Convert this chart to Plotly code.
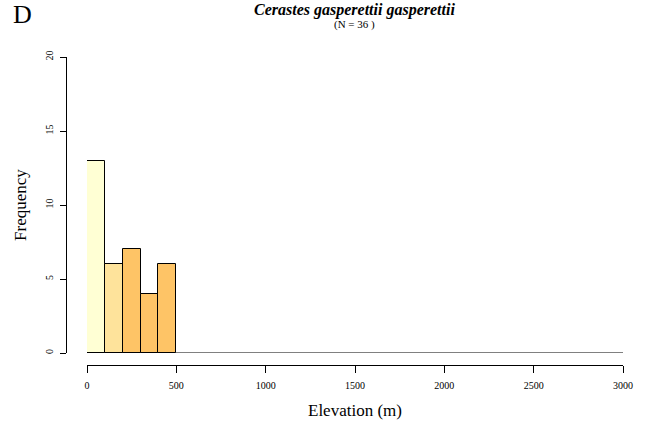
import plotly.graph_objects as go

# Histogram data (100 m bins)
bin_edges = list(range(0, 3001, 100))
counts = [13, 6, 7, 4, 6]
bar_colors = ["#FFFFD4", "#FEE39B", "#FEC466", "#FEC466", "#FEC466"]

species = "Cerastes gasperettii gasperettii"
n_total = sum(counts)
x_ticks = [0, 500, 1000, 1500, 2000, 2500, 3000]
y_ticks = [0, 5, 10, 15, 20]

SERIF = "Liberation Serif, Times New Roman, serif"
W, H = 645, 421
ML, MR, MT, MB = 66, 22, 57, 56
PW, PH = W - ML - MR, H - MT - MB


def px(x, y):
    # pixel position -> paper coordinates
    return (x - ML) / PW, (H - MB - y) / PH


left_edges = bin_edges[:len(counts)]
fig = go.Figure()

# zero-count bins drawn as baseline across the full range
fig.add_trace(go.Scatter(
    x=[bin_edges[0], bin_edges[-1]], y=[0, 0], mode="lines",
    line=dict(color="black", width=1), hoverinfo="skip", showlegend=False,
))

fig.add_trace(go.Bar(
    x=[e + 50 for e in left_edges], y=counts, width=100,
    marker=dict(color=bar_colors, line=dict(color="black", width=1)),
    showlegend=False,
))

tx, ty = px(355, 10)
nx, ny = px(355, 25)
dx, dy = px(22, 15)

fig.update_layout(
    width=W, height=H,
    paper_bgcolor="white", plot_bgcolor="white",
    margin=dict(l=ML, r=MR, t=MT, b=MB, autoexpand=False),
    font=dict(family=SERIF, color="black"),
    bargap=0,
    xaxis=dict(
        range=[0, 3000], domain=[21 / PW, 1], anchor="free", position=0, automargin=False,
        tickvals=x_ticks, ticks="outside", ticklen=7, tickcolor="black", ticklabelstandoff=4,
        showline=True, linecolor="black", linewidth=1, showgrid=False, zeroline=False,
        tickfont=dict(size=10, family=SERIF),
        title=dict(text="Elevation (m)", font=dict(size=17, family=SERIF), standoff=14),
    ),
    yaxis=dict(
        range=[0, 20], domain=[12 / PH, 1], anchor="free", position=0, automargin=False,
        tickvals=y_ticks, ticks="outside", ticklen=6, tickcolor="black", tickangle=-90,
        ticklabelstandoff=3,
        showline=True, linecolor="black", linewidth=1, showgrid=False, zeroline=False,
        tickfont=dict(size=10, family=SERIF),
        title=dict(text="Frequency", font=dict(size=17, family=SERIF), standoff=12),
    ),
    annotations=[
        dict(text="<b><i>" + species + "</i></b>", x=tx, y=ty, xref="paper", yref="paper",
             xanchor="center", yanchor="middle", showarrow=False,
             font=dict(size=16, family=SERIF)),
        dict(text="(N = %d )" % n_total, x=nx, y=ny, xref="paper", yref="paper",
             xanchor="center", yanchor="middle", showarrow=False,
             font=dict(size=11, family=SERIF)),
        dict(text="D", x=dx, y=dy, xref="paper", yref="paper",
             xanchor="center", yanchor="middle", showarrow=False,
             font=dict(size=26, family=SERIF)),
    ],
)

# drop the default 8px page margin so the figure sits at the window origin
fig.write_html("out.html", config={"displayModeBar": False},
               post_script="document.body.style.margin='0px';")
